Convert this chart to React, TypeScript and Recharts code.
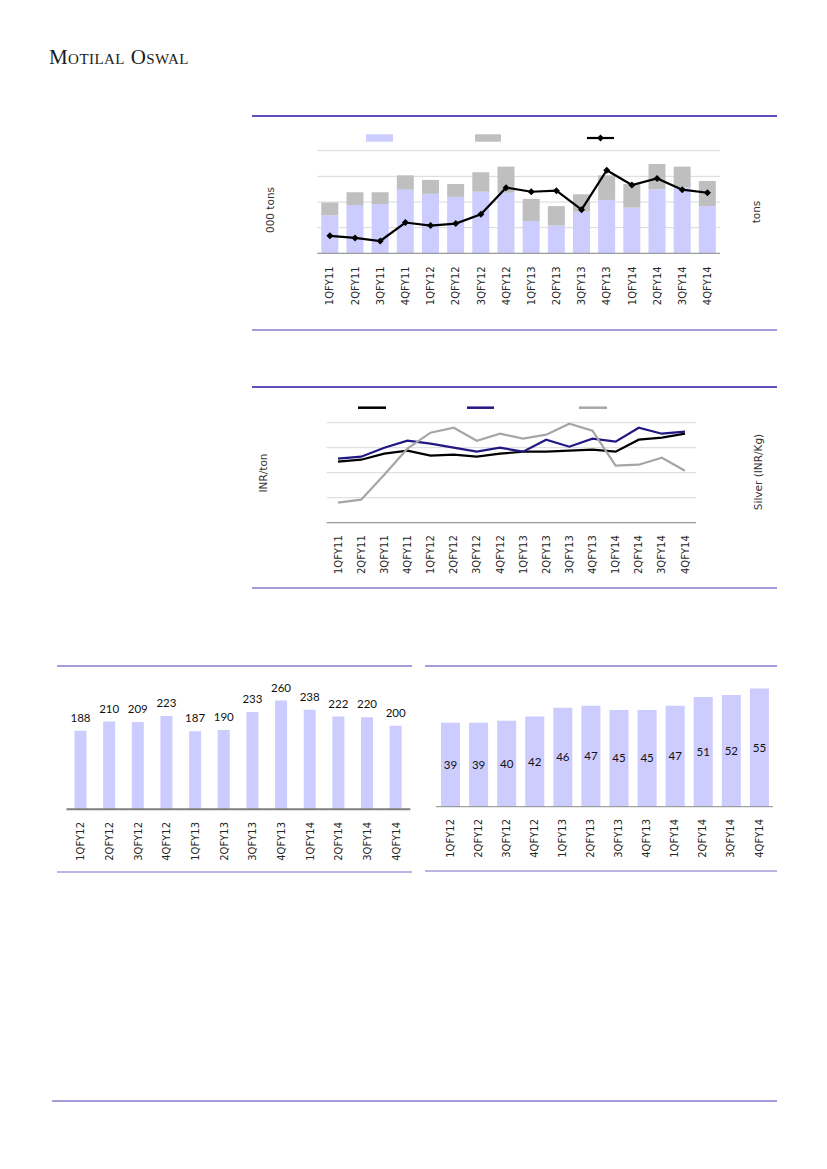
import React from "react";
import {
  ComposedChart,
  LineChart,
  BarChart,
  Bar,
  Line,
  XAxis,
  YAxis,
  CartesianGrid,
  Legend,
  LabelList,
} from "recharts";

const quarters16 = [
  "1QFY11", "2QFY11", "3QFY11", "4QFY11",
  "1QFY12", "2QFY12", "3QFY12", "4QFY12",
  "1QFY13", "2QFY13", "3QFY13", "4QFY13",
  "1QFY14", "2QFY14", "3QFY14", "4QFY14",
];
const quarters12 = [
  "1QFY12", "2QFY12", "3QFY12", "4QFY12",
  "1QFY13", "2QFY13", "3QFY13", "4QFY13",
  "1QFY14", "2QFY14", "3QFY14", "4QFY14",
];

// chart 1 (values in grid units, axis text is not shown in the source)
const baseVolume = [37, 47, 48, 62, 58, 55, 60, 59, 31.5, 27, 40.5, 52, 44.5, 62.5, 64, 46];
const extraVolume = [12.5, 12.5, 11.5, 14, 13.5, 12.5, 19, 25.5, 21.5, 19, 17, 24, 23, 24.5, 20.5, 24.5];
const tonsLine = [17, 15, 12, 30, 27, 29, 38, 64, 60, 61, 42.5, 81, 66.5, 73, 62, 59];
const gridTicks = [0, 25, 50, 75, 100];

// chart 2
const priceBlack = [61, 63, 69, 72, 67, 68, 66, 69, 71, 71, 72, 73, 71, 83, 85, 89];
const priceNavy = [64, 66, 75, 82, 79, 75, 71, 75, 71, 83, 76, 84, 81, 95, 89, 91];
const silverPrice = [20, 23, 48, 74, 90, 95, 82, 89, 84, 88, 99, 92, 57, 58, 65, 52];

// bottom charts
const quarterVolume = [188, 210, 209, 223, 187, 190, 233, 260, 238, 222, 220, 200];
const quarterRate = [39, 39, 40, 42, 46, 47, 45, 45, 47, 51, 52, 55];

const LAVENDER = "#ccccff";
const BAR_GREY = "#bfbfbf";
const NAVY = "#211785";
const LINE_GREY = "#a6a6a6";
const GRID = "#d9d9d9";
const TICK_FONT = "DejaVu Sans";

const volumeData = quarters16.map((q, i) => ({
  q,
  base: baseVolume[i],
  extra: extraVolume[i],
  tons: tonsLine[i],
}));
const priceData = quarters16.map((q, i) => ({
  q,
  black: priceBlack[i],
  navy: priceNavy[i],
  silver: silverPrice[i],
}));
const volData12 = quarters12.map((q, i) => ({ q, v: quarterVolume[i] }));
const rateData12 = quarters12.map((q, i) => ({ q, v: quarterRate[i] }));

function RotTick(props: any) {
  const { x, y, payload, gap } = props;
  return (
    <g transform={`translate(${x},${y})`}>
      <text
        transform="rotate(-90)"
        x={-gap}
        y={0}
        dy="0.36em"
        textAnchor="end"
        fontFamily={TICK_FONT}
        fontSize={10}
        fill="#262626"
      >
        {payload.value}
      </text>
    </g>
  );
}

function Diamond(props: any) {
  const { cx, cy } = props;
  if (cx == null || cy == null) return <g />;
  const r = 3.5;
  return <path d={`M${cx},${cy - r}L${cx + r},${cy}L${cx},${cy + r}L${cx - r},${cy}Z`} fill="#000" />;
}

function Rule({ left, top, width, color, h = 1.5 }: any) {
  return (
    <div style={{ position: "absolute", left, top, width, height: h, background: color }} />
  );
}

function VLabel({ cx, cy, text }: any) {
  return (
    <div
      style={{
        position: "absolute",
        left: cx,
        top: cy,
        transform: "translate(-50%, -50%) rotate(-90deg)",
        whiteSpace: "nowrap",
        fontFamily: TICK_FONT,
        fontSize: 10.5,
        color: "#333",
      }}
    >
      {text}
    </div>
  );
}

function VolumeLegend() {
  return (
    <svg width={560} height={30} style={{ display: "block" }}>
      <rect x={116} y={18.3} width={27} height={7.4} fill={LAVENDER} />
      <rect x={225} y={18.3} width={26} height={7.4} fill={BAR_GREY} />
      <line x1={337} y1={22} x2={364} y2={22} stroke="#000" strokeWidth={2.2} />
      <Diamond cx={350.5} cy={22} />
    </svg>
  );
}

function PriceLegend() {
  return (
    <svg width={560} height={30} style={{ display: "block" }}>
      <line x1={108} y1={19.7} x2={136} y2={19.7} stroke="#000" strokeWidth={2.5} />
      <line x1={217} y1={19.7} x2={244} y2={19.7} stroke={NAVY} strokeWidth={2.5} />
      <line x1={329} y1={19.7} x2={357} y2={19.7} stroke={LINE_GREY} strokeWidth={2.5} />
    </svg>
  );
}

export default function App() {
  return (
    <div style={{ position: "absolute", left: 0, top: 0, width: 827, height: 1169, background: "#fff" }}>
      <div
        style={{
          position: "absolute",
          left: 49,
          top: 47,
          fontFamily: "Liberation Serif",
          fontSize: 21,
          lineHeight: "21px",
          fontVariant: "small-caps",
          letterSpacing: 0.45,
          color: "#1a1a1a",
          whiteSpace: "nowrap",
        }}
      >
        Motilal Oswal
      </div>

      {/* chart 1 */}
      <Rule left={252} top={115} width={525} color="#5f50c0" />
      <Rule left={252} top={329} width={525} color="#a39ddc" />
      <VLabel cx={270} cy={210} text="000 tons" />
      <VLabel cx={756} cy={212} text="tons" />
      <div style={{ position: "absolute", left: 250, top: 116 }}>
        <ComposedChart
          width={560}
          height={214}
          data={volumeData}
          margin={{ top: 34.7, right: 90, left: 67.3, bottom: 0 }}
        >
          <CartesianGrid vertical={false} stroke={GRID} yAxisId="left" />
          <XAxis
            dataKey="q"
            interval={0}
            height={76.7}
            tickLine={false}
            tickSize={0}
            tickMargin={0}
            stroke="#8c8c8c"
            tick={(p: any) => <RotTick {...p} gap={13} />}
          />
          <YAxis yAxisId="left" hide domain={[0, 100]} ticks={gridTicks} />
          <YAxis yAxisId="right" orientation="right" hide domain={[0, 100]} />
          <Legend
            layout="horizontal"
            verticalAlign="middle"
            align="center"
            wrapperStyle={{ top: 0, left: 0, width: 560, height: 30 }}
            content={() => <VolumeLegend />}
          />
          <Bar yAxisId="left" dataKey="base" stackId="v" fill={LAVENDER} barSize={17} isAnimationActive={false} />
          <Bar yAxisId="left" dataKey="extra" stackId="v" fill={BAR_GREY} barSize={17} isAnimationActive={false} />
          <Line
            yAxisId="right"
            dataKey="tons"
            stroke="#000"
            strokeWidth={2.2}
            dot={<Diamond />}
            activeDot={false}
            isAnimationActive={false}
          />
        </ComposedChart>
      </div>

      {/* chart 2 */}
      <Rule left={252} top={386} width={525} color="#5f50c0" />
      <Rule left={252} top={587} width={525} color="#a39ddc" />
      <VLabel cx={263} cy={473} text="INR/ton" />
      <VLabel cx={758} cy={472} text="Silver (INR/Kg)" />
      <div style={{ position: "absolute", left: 250, top: 388 }}>
        <LineChart
          width={560}
          height={200}
          data={priceData}
          margin={{ top: 34.7, right: 114, left: 76.7, bottom: 0 }}
        >
          <CartesianGrid vertical={false} stroke={GRID} yAxisId="left" />
          <XAxis
            dataKey="q"
            interval={0}
            height={65.3}
            padding={{ left: 11.3, right: 11 }}
            tickLine={false}
            tickSize={0}
            tickMargin={0}
            stroke="#8c8c8c"
            tick={(p: any) => <RotTick {...p} gap={12.5} />}
          />
          <YAxis yAxisId="left" hide domain={[0, 100]} ticks={gridTicks} />
          <YAxis yAxisId="right" orientation="right" hide domain={[0, 100]} />
          <Legend
            layout="horizontal"
            verticalAlign="middle"
            align="center"
            wrapperStyle={{ top: 0, left: 0, width: 560, height: 30 }}
            content={() => <PriceLegend />}
          />
          <Line yAxisId="left" dataKey="black" stroke="#000" strokeWidth={2.2} dot={false} activeDot={false} isAnimationActive={false} />
          <Line yAxisId="left" dataKey="navy" stroke={NAVY} strokeWidth={2.2} dot={false} activeDot={false} isAnimationActive={false} />
          <Line yAxisId="right" dataKey="silver" stroke={LINE_GREY} strokeWidth={2.2} dot={false} activeDot={false} isAnimationActive={false} />
        </LineChart>
      </div>

      {/* chart 3 */}
      <Rule left={57} top={665} width={355} color="#a39ddc" h={2} />
      <Rule left={57} top={871} width={355} color="#b9b4e2" h={1.5} />
      <div style={{ position: "absolute", left: 57, top: 666 }}>
        <BarChart
          width={355}
          height={206}
          data={volData12}
          margin={{ top: 17.9, right: 1.7, left: 9.5, bottom: 0 }}
        >
          <XAxis
            dataKey="q"
            interval={0}
            height={62.7}
            tickLine={false}
            tickSize={0}
            tickMargin={0}
            stroke="#7f7f7f"
            strokeWidth={2}
            tick={(p: any) => <RotTick {...p} gap={12.7} />}
          />
          <YAxis hide domain={[0, 300]} />
          <Bar dataKey="v" fill={LAVENDER} barSize={12} isAnimationActive={false}>
            <LabelList
              dataKey="v"
              position="top"
              offset={9}
              fill="#111"
              fontFamily="Lato"
              fontSize={11.5}
            />
          </Bar>
        </BarChart>
      </div>

      {/* chart 4 */}
      <Rule left={425} top={665} width={352} color="#a39ddc" h={2} />
      <Rule left={425} top={870} width={352} color="#b9b4e2" h={1.5} />
      <div style={{ position: "absolute", left: 425, top: 666 }}>
        <BarChart
          width={355}
          height={205}
          data={rateData12}
          margin={{ top: 11.7, right: 7, left: 11, bottom: 0 }}
        >
          <XAxis
            dataKey="q"
            interval={0}
            height={64.3}
            tickLine={false}
            tickSize={0}
            tickMargin={0}
            stroke="#8c8c8c"
            tick={(p: any) => <RotTick {...p} gap={12.3} />}
          />
          <YAxis hide domain={[0, 60]} />
          <Bar dataKey="v" fill={LAVENDER} barSize={19} isAnimationActive={false}>
            <LabelList dataKey="v" position="center" fill="#111" fontFamily="Lato" fontSize={11.5} />
          </Bar>
        </BarChart>
      </div>

      <Rule left={52} top={1100} width={725} color="#a39ddc" h={1.5} />
    </div>
  );
}
